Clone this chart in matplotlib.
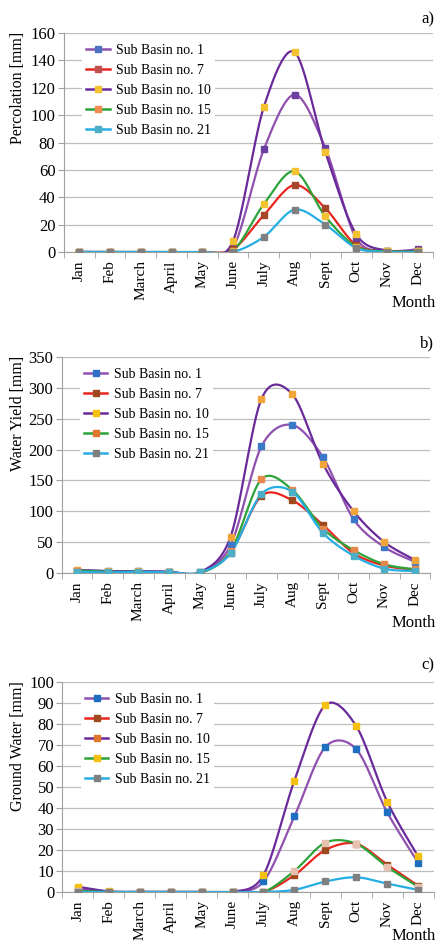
import numpy as np
import matplotlib
matplotlib.use("Agg")
import matplotlib.pyplot as plt
from matplotlib.lines import Line2D

plt.rcParams['font.family'] = ['Liberation Serif', 'DejaVu Serif']

months = ['Jan', 'Feb', 'March', 'April', 'May', 'June', 'July', 'Aug', 'Sept', 'Oct', 'Nov', 'Dec']
names = ['Sub Basin no. 1', 'Sub Basin no. 7', 'Sub Basin no. 10', 'Sub Basin no. 15', 'Sub Basin no. 21']

# a) percolation [mm]
perc_1 = [0, 0, 0, 0, 0, 3, 75, 115, 76, 10, 1, 2]
perc_7 = [0, 0, 0, 0, 0, 2, 27, 49, 32, 5, 0.5, 0.5]
perc_10 = [0, 0, 0, 0, 0, 8, 106, 146, 73, 13, 1, 1]
perc_15 = [0, 0, 0, 0, 0, 1, 35, 59, 26, 4, 0.5, 0.5]
perc_21 = [0, 0, 0, 0, 0, 0, 11, 31, 20, 3, 0, 0]

# b) water yield [mm]
wy_1 = [4, 3, 3, 2, 1, 45, 205, 240, 188, 87, 42, 18]
wy_7 = [3, 2, 2, 1, 0, 33, 125, 118, 78, 32, 12, 5]
wy_10 = [5, 3, 3, 2, 1, 59, 282, 290, 177, 100, 50, 21]
wy_15 = [4, 2, 2, 1, 0, 35, 152, 135, 72, 37, 14, 6]
wy_21 = [2, 1, 2, 1, 1, 32, 128, 132, 65, 28, 7, 3]

# c) ground water [mm]
gw_1 = [1.5, 0, 0, 0, 0, 0, 5, 36, 69, 68, 38, 14]
gw_7 = [0.5, 0, 0, 0, 0, 0, 0, 8, 20, 23, 13, 3]
gw_10 = [2.5, 0.3, 0, 0, 0, 0, 8, 53, 89, 79, 43, 17]
gw_15 = [0.5, 0, 0, 0, 0, 0, 0, 10, 23.5, 23, 12, 2.5]
gw_21 = [0, 0, 0, 0, 0, 0, 0, 1, 5, 7, 4, 1]

line_cols = ['#9050B0', '#E8251E', '#6A2A9A', '#2DA33A', '#26AEE4']
mk_a = ['#6A3FA0', '#A5462A', '#F2C230', '#F2C230', '#808080']
mk_b = ['#3B78C8', '#9E4A1E', '#F0A53A', '#E8874A', '#4BAFC8']
mk_c = ['#1F6FC0', '#9E4A1E', '#F5C010', '#E8C0B0', '#808080']
leg_a = ['#4F6FC0', '#C0504D', '#F2C230', '#F08C50', '#4BACC6']
leg_b = ['#2F70C8', '#9E4A1E', '#F5C010', '#E0782E', '#808080']
leg_c = ['#1F6FC0', '#9E4A1E', '#E0782E', '#F5C010', '#808080']


def smooth(y):
    # Excel-style smoothed line (Bezier through points)
    x = np.arange(len(y), dtype=float)
    y = np.asarray(y, dtype=float)
    px = np.concatenate([[x[0]], x, [x[-1]]])
    py = np.concatenate([[y[0]], y, [y[-1]]])
    t = np.linspace(0, 1, 30)[:, None]
    xs, ys = [], []
    for i in range(len(x) - 1):
        p0 = np.array([px[i + 1], py[i + 1]])
        p3 = np.array([px[i + 2], py[i + 2]])
        c1 = p0 + (p3 - np.array([px[i], py[i]])) / 6.5
        c2 = p3 - (np.array([px[i + 3], py[i + 3]]) - p0) / 6.5
        b = (1 - t) ** 3 * p0 + 3 * (1 - t) ** 2 * t * c1 + 3 * (1 - t) * t ** 2 * c2 + t ** 3 * p3
        xs.append(b[:, 0])
        ys.append(b[:, 1])
    return np.concatenate(xs), np.concatenate(ys)


def panel(rect, series, ymax, ystep, mk, legc, ylabel, tag, tag_y, month_y, ylab_top):
    ax = fig.add_axes(rect)
    x = np.arange(12)
    for i, s in enumerate(series):
        sx, sy = smooth(s)
        ax.plot(sx, sy, color=line_cols[i], lw=1.6, zorder=2 + i * 0.1)
    for i, s in enumerate(series):
        ax.plot(x, s, ls='none', marker='s', ms=4.6, mfc=mk[i], mec=mk[i], zorder=4)
    ax.set_xlim(-0.5, 11.5)
    ax.set_ylim(0, ymax)
    ax.set_yticks(np.arange(0, ymax + 1, ystep))
    ax.yaxis.grid(True, color='#BEBEBE', lw=0.9)
    ax.set_axisbelow(True)
    ax.set_xticks(x)
    ax.set_xticklabels(months, rotation=90, fontsize=11)
    ax.set_xticks(np.arange(-0.5, 12, 1), minor=True)
    ax.tick_params(axis='x', which='major', length=0, pad=6)
    ax.tick_params(axis='x', which='minor', length=4, color='#A0A0A0')
    ax.tick_params(axis='y', length=4, color='#A0A0A0', labelsize=12, pad=2)
    for k in ['top', 'right']:
        ax.spines[k].set_visible(False)
    for k in ['left', 'bottom']:
        ax.spines[k].set_color('#A0A0A0')
    handles = [Line2D([], [], color=line_cols[i], lw=1.8, marker='s', ms=5,
                      mfc=legc[i], mec=legc[i]) for i in range(5)]
    leg = ax.legend(handles, names, loc='upper left', bbox_to_anchor=(0.03, 1.0),
                    fontsize=10, handlelength=1.7, handletextpad=0.45,
                    labelspacing=0.5, borderpad=0.3, fancybox=False, framealpha=1)
    leg.get_frame().set_edgecolor('none')
    leg.set_zorder(5)
    fig.text(0.993, 1 - tag_y / 946, tag, ha='right', va='center', fontsize=12)
    fig.text(0.997, 1 - month_y / 946, 'Month', ha='right', va='center', fontsize=12)
    fig.text(0.042, 1 - ylab_top / 946, ylabel, rotation=90, ha='center', va='top', fontsize=11.5)
    return ax


fig = plt.figure(figsize=(4.37, 9.46), dpi=100)

panel([0.146, 0.7336, 0.845, 0.2315], [perc_1, perc_7, perc_10, perc_15, perc_21],
      160, 20, mk_a, leg_a, 'Percolation [mm]', 'a)', 19, 303, 32)
panel([0.141, 0.3943, 0.844, 0.2283], [wy_1, wy_7, wy_10, wy_15, wy_21],
      350, 50, mk_b, leg_b, 'Water Yield [mm]', 'b)', 343, 623, 356)
panel([0.143, 0.0571, 0.849, 0.222], [gw_1, gw_7, gw_10, gw_15, gw_21],
      100, 10, mk_c, leg_c, 'Ground Water [mm]', 'c)', 665, 936, 681)

fig.savefig('out.png', dpi=100)
